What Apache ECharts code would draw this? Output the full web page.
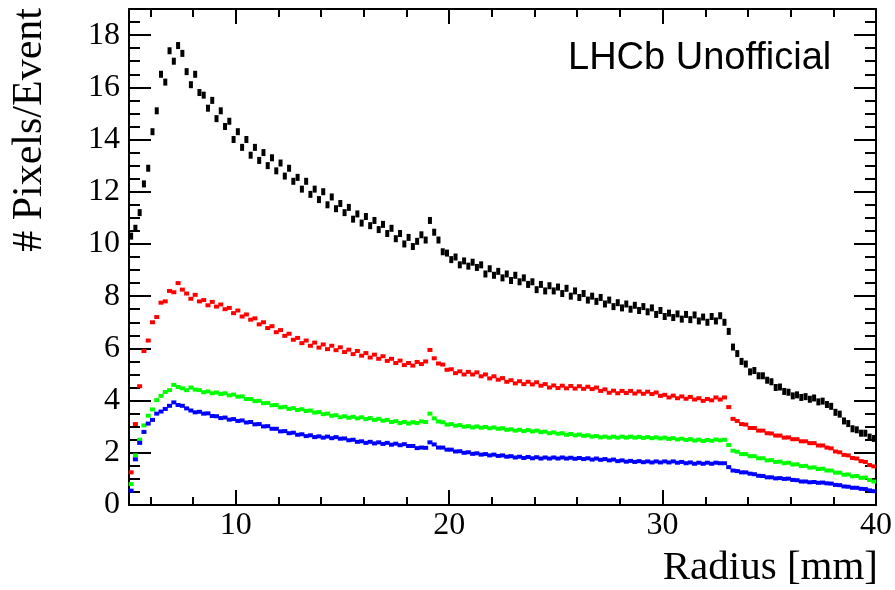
<!DOCTYPE html>
<html>
<head>
<meta charset="utf-8">
<script src="https://cdn.jsdelivr.net/npm/echarts@6/dist/echarts.min.js"></script>
<style>
  html, body { margin: 0; padding: 0; background: #ffffff; }
  #chart { width: 895px; height: 590px; }
</style>
</head>
<body>
<div id="chart"></div>
<script>
// Histogram bins: radius from 5 mm, 0.2 mm wide
const BIN_START = 5.0;
const BIN_WIDTH = 0.2;

const xTickLabels = [10, 20, 30, 40];
const xMinorTicks = [6, 8, 12, 14, 16, 18, 22, 24, 26, 28, 32, 34, 36, 38];
const yTickLabels = [0, 2, 4, 6, 8, 10, 12, 14, 16, 18];
const yMinorTicks = [0.5, 1, 1.5, 2.5, 3, 3.5, 4.5, 5, 5.5, 6.5, 7, 7.5, 8.5, 9, 9.5,
  10.5, 11, 11.5, 12.5, 13, 13.5, 14.5, 15, 15.5, 16.5, 17, 17.5, 18.5];

const blackSeries = [
  10.3, 10.6, 11.2, 12.3, 12.9, 14.3, 15.1, 16.5, 16.2, 17.4,
  17.0, 17.6, 17.3, 16.6, 16.1, 16.5, 15.8, 15.7, 15.2, 15.5,
  14.8, 15.1, 14.5, 14.7, 14.0, 14.3, 13.7, 14.0, 13.4, 13.7,
  13.2, 13.5, 13.0, 13.3, 12.8, 13.1, 12.6, 12.9, 12.4, 12.55,
  12.1, 12.4, 11.9, 12.1, 11.7, 12.0, 11.5, 11.8, 11.35, 11.55,
  11.2, 11.4, 10.95, 11.15, 10.8, 11.05, 10.7, 10.9, 10.55, 10.75,
  10.4, 10.6, 10.2, 10.4, 10.0, 10.25, 9.9, 10.1, 10.35, 10.15,
  10.9, 10.45, 10.15, 9.7, 9.65, 9.4, 9.5, 9.2, 9.35, 9.15,
  9.3, 9.1, 9.2, 8.85, 9.05, 8.8, 8.95, 8.7, 8.85, 8.6,
  8.8, 8.55, 8.7, 8.45, 8.55, 8.25, 8.45, 8.2, 8.4, 8.2,
  8.35, 8.1, 8.3, 8.0, 8.2, 7.95, 8.1, 7.85, 8.0, 7.8,
  7.95, 7.7, 7.85, 7.6, 7.75, 7.55, 7.7, 7.5, 7.65, 7.45,
  7.6, 7.4, 7.55, 7.3, 7.45, 7.22, 7.35, 7.18, 7.32, 7.12,
  7.3, 7.1, 7.28, 7.05, 7.2, 7.0, 7.22, 7.05, 7.25, 7.0,
  6.65, 6.05, 5.8, 5.5, 5.4, 5.1, 5.15, 4.95, 4.95, 4.78,
  4.72, 4.5, 4.52, 4.35, 4.32, 4.18, 4.22, 4.12, 4.15, 4.05,
  4.1, 3.95, 3.98, 3.85, 3.78, 3.55, 3.48, 3.22, 3.12, 2.92,
  2.88, 2.75, 2.75, 2.6, 2.55
];

const redSeries = [
  1.25, 3.1, 4.55, 5.9, 6.3, 7.0, 7.2, 7.75, 7.8, 8.2,
  8.15, 8.5, 8.25, 8.1, 7.9, 8.05, 7.8, 7.85, 7.65, 7.78,
  7.6, 7.68, 7.5, 7.55, 7.35, 7.45, 7.22, 7.3, 7.1, 7.15,
  6.92, 7.0, 6.78, 6.85, 6.62, 6.7, 6.48, 6.56, 6.33, 6.4,
  6.2, 6.3, 6.1, 6.22, 6.03, 6.15, 5.97, 6.1, 5.93, 6.04,
  5.86, 5.95, 5.78, 5.9, 5.72, 5.82, 5.65, 5.76, 5.6, 5.7,
  5.52, 5.6, 5.44, 5.53, 5.36, 5.44, 5.34, 5.48, 5.4, 5.5,
  5.94, 5.62, 5.42, 5.38, 5.18, 5.2, 5.05, 5.12, 5.0, 5.1,
  5.0, 5.08, 4.93, 5.0, 4.85, 4.93, 4.8, 4.86, 4.72, 4.78,
  4.66, 4.74, 4.63, 4.72, 4.62, 4.7, 4.57, 4.63, 4.5, 4.58,
  4.48, 4.57, 4.47, 4.56, 4.46, 4.55, 4.45, 4.53, 4.44, 4.5,
  4.37, 4.43, 4.3, 4.38, 4.28, 4.37, 4.29, 4.37, 4.27, 4.35,
  4.26, 4.34, 4.25, 4.31, 4.18, 4.22, 4.12, 4.19, 4.09, 4.16,
  4.07, 4.14, 4.04, 4.09, 3.99, 4.06, 4.01, 4.12, 4.04, 4.12,
  3.75, 3.3, 3.22, 3.1, 3.08, 2.95, 2.95, 2.85, 2.85, 2.75,
  2.74, 2.66, 2.66, 2.58, 2.59, 2.52, 2.52, 2.44, 2.44, 2.37,
  2.37, 2.28, 2.28, 2.2, 2.17, 2.05, 2.02, 1.92, 1.9, 1.8,
  1.78, 1.68, 1.65, 1.53, 1.48
];

const greenSeries = [
  0.8, 1.9, 2.5, 3.05, 3.42, 3.66, 4.02, 4.18, 4.33, 4.4,
  4.6, 4.52, 4.47, 4.4, 4.5, 4.42, 4.4, 4.32, 4.35, 4.28,
  4.31, 4.25, 4.28, 4.2, 4.23, 4.15, 4.16, 4.06, 4.06, 3.98,
  3.99, 3.9, 3.91, 3.82, 3.83, 3.74, 3.76, 3.68, 3.71, 3.64,
  3.67, 3.6, 3.62, 3.54, 3.56, 3.48, 3.5, 3.42, 3.44, 3.36,
  3.4, 3.34, 3.38, 3.32, 3.36, 3.29, 3.33, 3.26, 3.3, 3.23,
  3.26, 3.18, 3.21, 3.14, 3.18, 3.12, 3.17, 3.14, 3.2, 3.18,
  3.5, 3.32, 3.2, 3.17, 3.08, 3.1, 3.04, 3.06, 3.0, 3.02,
  2.97, 3.01, 2.96, 2.99, 2.94, 2.97, 2.92, 2.94, 2.88, 2.9,
  2.85, 2.88, 2.83, 2.87, 2.82, 2.85, 2.79, 2.81, 2.75, 2.78,
  2.73, 2.75, 2.69, 2.72, 2.67, 2.7, 2.65, 2.67, 2.62, 2.64,
  2.59, 2.62, 2.58, 2.62, 2.58, 2.62, 2.58, 2.62, 2.58, 2.61,
  2.57, 2.6, 2.56, 2.59, 2.55, 2.58, 2.53, 2.56, 2.51, 2.54,
  2.49, 2.52, 2.47, 2.5, 2.45, 2.49, 2.46, 2.51, 2.48, 2.5,
  2.3, 2.08, 2.04, 1.95, 1.95, 1.87, 1.87, 1.79, 1.79, 1.71,
  1.72, 1.65, 1.66, 1.6, 1.62, 1.55, 1.56, 1.49, 1.5, 1.43,
  1.44, 1.38, 1.39, 1.32, 1.32, 1.24, 1.24, 1.16, 1.17, 1.1,
  1.11, 1.04, 1.05, 0.96, 0.9
];

const blueSeries = [
  0.55, 1.75, 2.38, 2.8, 3.12, 3.26, 3.5, 3.58, 3.68, 3.8,
  3.93, 3.83, 3.8, 3.7, 3.62, 3.55, 3.57, 3.5, 3.51, 3.41,
  3.4, 3.33, 3.35, 3.27, 3.29, 3.22, 3.24, 3.16, 3.18, 3.09,
  3.1, 3.01, 3.02, 2.92, 2.92, 2.82, 2.83, 2.75, 2.77, 2.69,
  2.71, 2.64, 2.67, 2.6, 2.63, 2.58, 2.62, 2.56, 2.6, 2.54,
  2.55, 2.48, 2.5, 2.42, 2.44, 2.38, 2.42, 2.36, 2.4, 2.34,
  2.38, 2.31, 2.35, 2.29, 2.33, 2.26, 2.26, 2.18, 2.2, 2.19,
  2.4, 2.32, 2.2, 2.2, 2.12, 2.12, 2.05, 2.06, 2.0, 2.02,
  1.96, 1.98, 1.93, 1.95, 1.9, 1.93, 1.88, 1.9, 1.85, 1.87,
  1.82, 1.85, 1.8, 1.84, 1.79, 1.83, 1.78, 1.82, 1.78, 1.82,
  1.78, 1.82, 1.78, 1.81, 1.77, 1.8, 1.76, 1.79, 1.74, 1.78,
  1.73, 1.76, 1.71, 1.74, 1.68, 1.71, 1.66, 1.69, 1.65, 1.68,
  1.64, 1.67, 1.63, 1.67, 1.63, 1.67, 1.63, 1.67, 1.62, 1.65,
  1.6, 1.63, 1.58, 1.62, 1.58, 1.62, 1.58, 1.62, 1.6, 1.6,
  1.45, 1.32, 1.3, 1.25, 1.25, 1.2, 1.18, 1.12, 1.11, 1.06,
  1.06, 1.02, 1.03, 1.0, 1.01, 0.96, 0.95, 0.9, 0.9, 0.87,
  0.88, 0.85, 0.86, 0.83, 0.82, 0.77, 0.76, 0.71, 0.7, 0.66,
  0.66, 0.62, 0.61, 0.56, 0.53
];

function toPoints(values) {
  return values.map((v, i) => [BIN_START + BIN_WIDTH * (i + 0.5), v]);
}

const SERIF = '"Liberation Serif", "DejaVu Serif", serif';
const X_MIN = 5, X_MAX = 40, Y_MIN = 0, Y_MAX = 19;

function xAxisDef(pos, ticks, len, withLabels, withLine) {
  return {
    type: 'value', position: pos, min: X_MIN, max: X_MAX,
    axisLine: { show: withLine, onZero: false, lineStyle: { color: '#000', width: 2 } },
    axisTick: { show: true, inside: true, length: len, customValues: ticks,
      lineStyle: { color: '#000', width: 2 } },
    axisLabel: withLabels ? { show: true, customValues: ticks, color: '#000',
      fontFamily: SERIF, fontSize: 32, margin: 5 } : { show: false },
    splitLine: { show: false }
  };
}
function yAxisDef(pos, ticks, len, withLabels, withLine) {
  return {
    type: 'value', position: pos, min: Y_MIN, max: Y_MAX,
    axisLine: { show: withLine, onZero: false, lineStyle: { color: '#000', width: 2 } },
    axisTick: { show: true, inside: true, length: len, customValues: ticks,
      lineStyle: { color: '#000', width: 2 } },
    axisLabel: withLabels ? { show: true, customValues: ticks, color: '#000',
      fontFamily: SERIF, fontSize: 32, margin: 9 } : { show: false },
    splitLine: { show: false }
  };
}

function scatter(name, values, color, size) {
  return {
    name: name, type: 'scatter', xAxisIndex: 0, yAxisIndex: 0,
    data: toPoints(values), symbol: 'rect', symbolSize: size,
    itemStyle: { color: color, opacity: 1 }, silent: true
  };
}

const chart = echarts.init(document.getElementById('chart'), null, { renderer: 'canvas' });
chart.setOption({
  animation: false,
  backgroundColor: '#ffffff',
  grid: { left: 129, right: 17, top: 9, bottom: 85, containLabel: false },
  xAxis: [
    xAxisDef('bottom', xTickLabels, 15, true, true),
    xAxisDef('bottom', xMinorTicks, 8, false, false),
    xAxisDef('top', xTickLabels, 15, false, true),
    xAxisDef('top', xMinorTicks, 8, false, false)
  ],
  yAxis: [
    yAxisDef('left', yTickLabels, 22, true, true),
    yAxisDef('left', yMinorTicks, 11, false, false),
    yAxisDef('right', yTickLabels, 22, false, true),
    yAxisDef('right', yMinorTicks, 11, false, false)
  ],
  series: [
    scatter('All', blackSeries, '#000000', [4, 7]),
    scatter('Red', redSeries, '#ff0000', [5, 4]),
    scatter('Green', greenSeries, '#00ff00', [5, 4]),
    scatter('Blue', blueSeries, '#0000ff', [5, 4])
  ],
  graphic: [
    { type: 'text', left: 568, top: 40,
      style: { text: 'LHCb Unofficial', font: '38px "Liberation Sans", Arial, sans-serif', fill: '#000' } },
    { type: 'text', x: 878, y: 568,
      style: { text: 'Radius [mm]', font: '41px ' + SERIF, fill: '#000',
        textAlign: 'right', textVerticalAlign: 'middle' } },
    { type: 'text', x: 30, y: 8, rotation: Math.PI / 2,
      style: { text: '# Pixels/Event', font: '42px ' + SERIF, fill: '#000',
        textAlign: 'right', textVerticalAlign: 'middle' } }
  ]
});
</script>
</body>
</html>
